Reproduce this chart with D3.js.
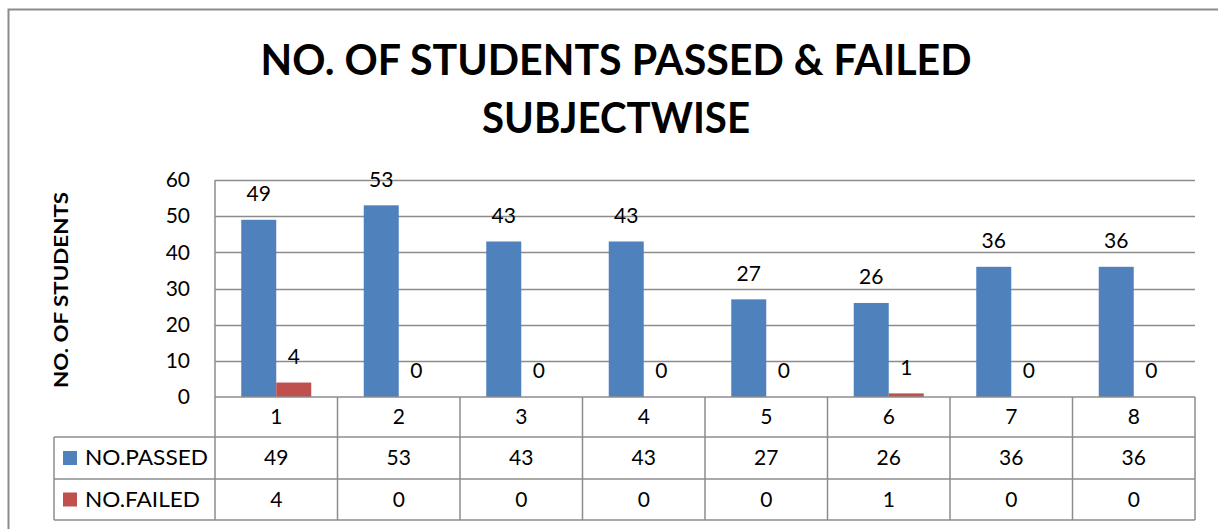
<!DOCTYPE html>
<html>
<head>
  <meta charset="utf-8">
  <style>
    body { margin: 0; background: #fff; }
    svg text { font-family: Lato, "Open Sans", "DejaVu Sans", sans-serif; fill: #000; }
  </style>
</head>
<body>
  <svg width="1218" height="529"></svg>
<script src="https://cdn.jsdelivr.net/npm/d3@7/dist/d3.min.js"></script>
<script>

var subjects = ["1", "2", "3", "4", "5", "6", "7", "8"];
var seriesNames = ["NO.PASSED", "NO.FAILED"];
var passed = [49, 53, 43, 43, 27, 26, 36, 36];
var failed = [4, 0, 0, 0, 0, 1, 0, 0];
var yTicks = [0, 10, 20, 30, 40, 50, 60];
var colors = ["#4F81BD", "#C0504D"];

var svg = d3.select("svg");

var plotLeft = 215, plotRight = 1195, plotTop = 180, plotBottom = 397;
var rowH = [40, 42, 41];   // header, passed, failed
var tableLeft = 54;
var fs = 21;

// outer chart border
svg.append("rect")
    .attr("x", 8.5).attr("y", 9.5)
    .attr("width", 1240).attr("height", 560)
    .attr("fill", "#fff").attr("stroke", "#8c8c8c").attr("stroke-width", 2);

// title
var title = svg.append("g").attr("font-weight", "bold").attr("font-size", 42);
title.append("text").attr("x", 616).attr("y", 75).attr("text-anchor", "middle")
    .attr("textLength", 711).attr("lengthAdjust", "spacingAndGlyphs")
    .text("NO. OF STUDENTS PASSED & FAILED");
title.append("text").attr("x", 616).attr("y", 133).attr("text-anchor", "middle")
    .attr("textLength", 268).attr("lengthAdjust", "spacingAndGlyphs")
    .text("SUBJECTWISE");

var x = d3.scaleBand().domain(subjects).range([plotLeft, plotRight]);
// two bars per subject, gap width 150%
var xs = d3.scaleBand().domain(seriesNames).range([0, x.bandwidth()]).paddingOuter(0.75);
var y = d3.scaleLinear().domain([0, 60]).range([plotBottom, plotTop]);

// gridlines
svg.append("g").selectAll("line")
  .data(yTicks.filter(function(d) { return d > 0; }))
  .enter().append("line")
    .attr("x1", plotLeft).attr("x2", plotRight)
    .attr("y1", function(d) { return Math.round(y(d)) + 0.5; })
    .attr("y2", function(d) { return Math.round(y(d)) + 0.5; })
    .attr("stroke", "#8c8c8c").attr("stroke-width", 1.5);

// y axis labels
var yAxis = d3.axisLeft(y).tickValues(yTicks).tickSize(0).tickPadding(25);
var ya = svg.append("g").attr("transform", "translate(" + plotLeft + ",0)").call(yAxis);
ya.select(".domain").remove();
ya.selectAll("text").attr("font-size", fs).style("font-family", "Lato, sans-serif").attr("fill", "#000");

// y axis title
svg.append("text")
    .attr("transform", "translate(68,290) rotate(-90)")
    .attr("text-anchor", "middle")
    .attr("font-size", 19).attr("font-weight", "bold")
    .attr("textLength", 196).attr("lengthAdjust", "spacingAndGlyphs")
    .text("NO. OF STUDENTS");

// bars
var data = subjects.map(function(s, i) {
  return { subject: s, values: [passed[i], failed[i]] };
});

var groups = svg.append("g").selectAll("g")
  .data(data)
  .enter().append("g")
    .attr("transform", function(d) { return "translate(" + x(d.subject) + ",0)"; });

groups.selectAll("rect")
  .data(function(d) { return d.values.map(function(v, j) { return { name: seriesNames[j], value: v, j: j }; }); })
  .enter().append("rect")
    .attr("x", function(d) { return xs(d.name); })
    .attr("width", xs.bandwidth())
    .attr("y", function(d) { return y(d.value); })
    .attr("height", function(d) { return plotBottom - y(d.value); })
    .attr("fill", function(d) { return colors[d.j]; });

groups.selectAll("text")
  .data(function(d) { return d.values.map(function(v, j) { return { name: seriesNames[j], value: v }; }); })
  .enter().append("text")
    .attr("x", function(d) { return xs(d.name) + xs.bandwidth() / 2; })
    .attr("y", function(d) { return y(d.value) - 26; })
    .attr("dy", "0.35em")
    .attr("text-anchor", "middle")
    .attr("font-size", fs)
    .text(function(d) { return d.value; });

// axis line and data table
var lines = svg.append("g").attr("stroke", "#8c8c8c").attr("stroke-width", 1.5);
var y0 = plotBottom, y1 = y0 + rowH[0], y2 = y1 + rowH[1], y3 = y2 + rowH[2];

lines.append("line").attr("x1", plotLeft).attr("x2", plotLeft).attr("y1", plotTop).attr("y2", y3);
lines.append("line").attr("x1", plotLeft).attr("x2", plotRight).attr("y1", y0).attr("y2", y0);
lines.append("line").attr("x1", tableLeft).attr("x2", plotRight).attr("y1", y1).attr("y2", y1);
lines.append("line").attr("x1", tableLeft).attr("x2", plotRight).attr("y1", y2).attr("y2", y2);
lines.append("line").attr("x1", tableLeft).attr("x2", plotRight).attr("y1", y3).attr("y2", y3);
lines.append("line").attr("x1", tableLeft).attr("x2", tableLeft).attr("y1", y1).attr("y2", y3);
lines.selectAll(".sep")
  .data(subjects)
  .enter().append("line").attr("class", "sep")
    .attr("x1", function(d) { return x(d) + x.bandwidth(); })
    .attr("x2", function(d) { return x(d) + x.bandwidth(); })
    .attr("y1", y0).attr("y2", y3);

var table = svg.append("g").attr("font-size", fs).attr("text-anchor", "middle");
table.selectAll(".cat")
  .data(subjects)
  .enter().append("text").attr("class", "cat")
    .attr("x", function(d) { return x(d) + x.bandwidth() / 2; })
    .attr("y", (y0 + y1) / 2).attr("dy", "0.35em")
    .text(function(d) { return d; });

[passed, failed].forEach(function(vals, j) {
  var cy = j === 0 ? (y1 + y2) / 2 : (y2 + y3) / 2;
  table.selectAll(".v" + j)
    .data(vals)
    .enter().append("text").attr("class", "v" + j)
      .attr("x", function(d, i) { return x(subjects[i]) + x.bandwidth() / 2; })
      .attr("y", cy).attr("dy", "0.35em")
      .text(function(d) { return d; });
  svg.append("rect")
      .attr("x", 63).attr("y", cy - 7).attr("width", 14).attr("height", 14)
      .attr("fill", colors[j]);
  svg.append("text")
      .attr("x", 85).attr("y", cy).attr("dy", "0.35em")
      .attr("font-size", fs)
      .attr("textLength", j === 0 ? 123 : 115).attr("lengthAdjust", "spacingAndGlyphs")
      .text(seriesNames[j]);
});

</script>
</body>
</html>
